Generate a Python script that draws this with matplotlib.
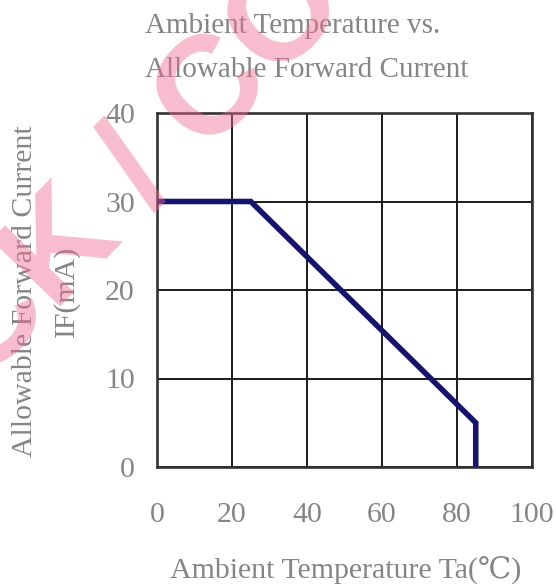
import matplotlib
matplotlib.use("Agg")
import matplotlib.pyplot as plt

# Derating curve: allowable forward current vs ambient temperature
temp_c = [0, 25, 85, 85]
current_ma = [30, 30, 5, 0]

x_ticks = [0, 20, 40, 60, 80, 100]
y_ticks = [0, 10, 20, 30, 40]

serif = ["Liberation Serif", "DejaVu Serif"]
gray = "#858585"
navy = "#14146e"

fig = plt.figure(figsize=(5.56, 5.84), dpi=100)
ax = fig.add_axes([157 / 556, 1 - 467 / 584, (532 - 157) / 556, (467 - 113) / 584])

ax.plot(temp_c, current_ma, color=navy, lw=4.0, solid_joinstyle="miter",
        solid_capstyle="butt", zorder=3)

ax.set_xlim(0, 100)
ax.set_ylim(0, 40)
ax.set_xticks(x_ticks)
ax.set_yticks(y_ticks)
ax.grid(True, color="#1a1a1a", lw=1.4)
ax.set_axisbelow(True)
for s in ax.spines.values():
    s.set_color("#333333")
    s.set_linewidth(1.9)

ax.tick_params(length=0, labelsize=21.5, labelcolor=gray)
ax.tick_params(axis="x", pad=25)
ax.tick_params(axis="y", pad=16)
for lab in ax.get_xticklabels() + ax.get_yticklabels():
    lab.set_family(serif)

fig.text(145 / 556, 1 - 48 / 584,
         "Ambient Temperature vs.\nAllowable Forward Current",
         ha="left", va="center", multialignment="left", fontsize=21,
         color=gray, family=serif, linespacing=1.9)

fig.text(346 / 556, 1 - 570 / 584, "Ambient Temperature Ta(℃)",
         ha="center", va="center", fontsize=21.5, color=gray, family=serif)

fig.text(46 / 556, 1 - 291 / 584, "Allowable Forward Current\nIF(mA)",
         ha="center", va="center", rotation=90, fontsize=21.5, color=gray,
         family=serif, linespacing=1.7)

# watermark overlay
fig.text(142 / 556, 1 - 170 / 584, "CK / CO", ha="center", va="center",
         rotation=46, rotation_mode="anchor", fontsize=101, color="#ef6d92",
         alpha=0.45, fontweight="bold", family="Liberation Sans", zorder=10)

fig.savefig("out.png", dpi=100)
